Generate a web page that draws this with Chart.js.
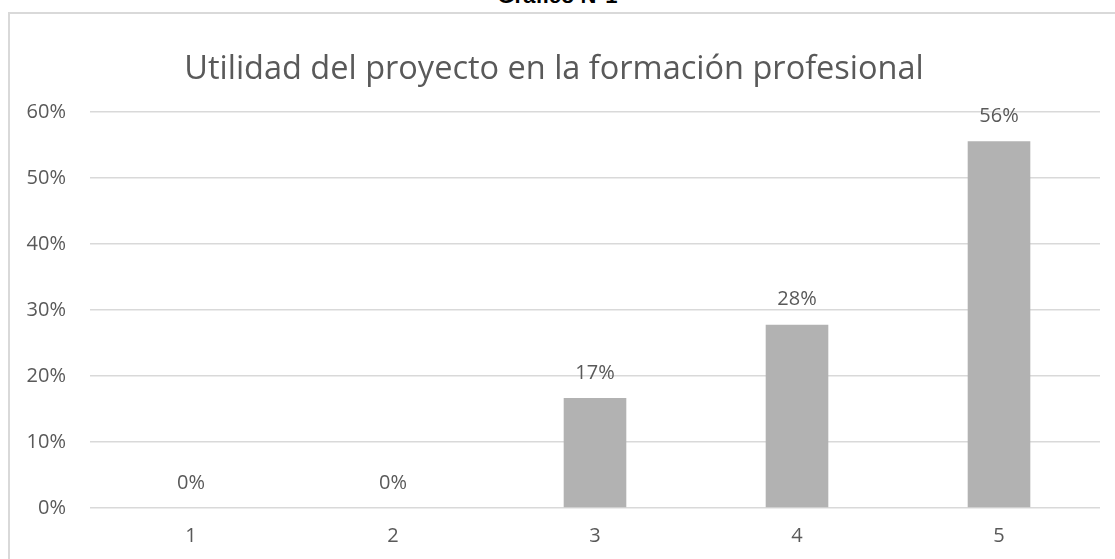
<!DOCTYPE html>
<html>
<head>
<meta charset="utf-8">
<script src="https://cdn.jsdelivr.net/npm/chart.js@4"></script>
<style>
  html, body { margin: 0; padding: 0; background: #fff; }
  body { width: 1115px; height: 559px; position: relative; overflow: hidden; }
  .caption {
    position: absolute; left: 0; width: 1115px; top: -15px;
    text-align: center; font: bold 22px "Liberation Sans", Arial, sans-serif;
    line-height: 22px; color: #000;
  }
  .frame {
    position: absolute; left: 8px; top: 12px; width: 1120px; height: 560px;
    border: 2px solid #d9d9d9; box-sizing: border-box;
  }
  #chart { position: absolute; left: 0; top: 0; }
</style>
</head>
<body>
<div class="caption">Gráfico N°1</div>
<div class="frame"></div>
<canvas id="chart" width="1115" height="559"></canvas>
<script>
// datos del gráfico
const categorias = ['1', '2', '3', '4', '5'];
const porcentajes = [0, 0, 16.67, 27.78, 55.56];
const ticksY = [0, 10, 20, 30, 40, 50, 60];

const textColor = '#595959';
const fontFam = '"Open Sans", "Noto Sans", sans-serif';

// etiquetas encima de cada barra
const barLabels = {
    id: 'barLabels',
    afterDatasetsDraw(chart) {
        const ctx = chart.ctx;
        const meta = chart.getDatasetMeta(0);
        ctx.save();
        ctx.fillStyle = textColor;
        ctx.font = '20px ' + fontFam;
        ctx.textAlign = 'center';
        ctx.textBaseline = 'middle';
        meta.data.forEach((bar, i) => {
            ctx.fillText(Math.round(porcentajes[i]) + '%', bar.x, bar.y - 25);
        });
        ctx.restore();
    }
};

new Chart(document.getElementById('chart'), {
    type: 'bar',
    data: {
        labels: categorias,
        datasets: [{
            data: porcentajes,
            backgroundColor: '#b2b2b2',
            borderWidth: 0,
            barPercentage: 0.31,
            categoryPercentage: 1
        }]
    },
    options: {
        responsive: false,
        animation: false,
        layout: { padding: { left: 8, right: 15, top: 12, bottom: 14 } },
        plugins: {
            legend: { display: false },
            tooltip: { enabled: false },
            title: {
                display: true,
                text: 'Utilidad del proyecto en la formación profesional',
                color: textColor,
                font: { family: fontFam, size: 32.5, weight: 'normal' },
                padding: { top: 38, bottom: 23 }
            }
        },
        scales: {
            y: {
                min: 0,
                max: 60,
                afterFit: (s) => { s.width = 82; },
                afterBuildTicks: (s) => { s.ticks = ticksY.map(v => ({ value: v })); },
                ticks: {
                    color: textColor,
                    font: { family: fontFam, size: 20 },
                    padding: 24,
                    callback: (v) => v + '%'
                },
                grid: { color: '#d9d9d9', lineWidth: 1.5, drawTicks: false },
                border: { display: false }
            },
            x: {
                afterFit: (s) => { s.height = 37; },
                ticks: {
                    color: textColor,
                    font: { family: fontFam, size: 20 },
                    padding: 16
                },
                grid: { display: false, drawTicks: false },
                border: { display: false }
            }
        }
    },
    plugins: [barLabels]
});
</script>
</body>
</html>
